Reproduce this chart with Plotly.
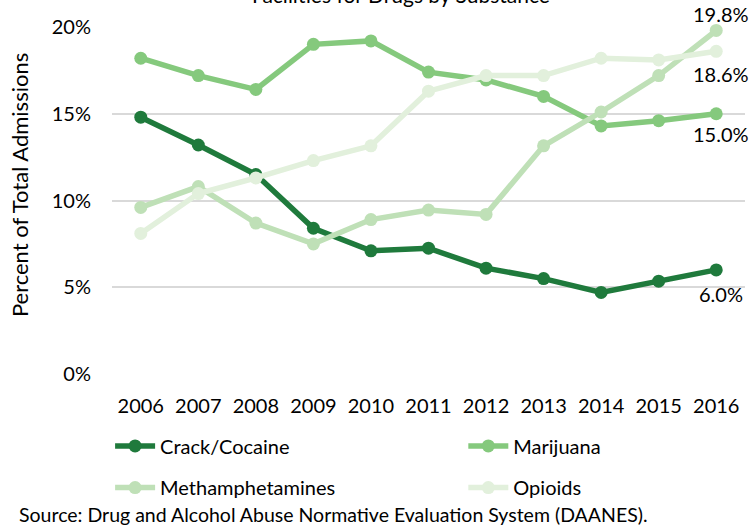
import plotly.graph_objects as go

years = [2006, 2007, 2008, 2009, 2010, 2011, 2012, 2013, 2014, 2015, 2016]
crack = [14.8, 13.2, 11.5, 8.4, 7.1, 7.25, 6.1, 5.5, 4.7, 5.35, 6.0]
marijuana = [18.2, 17.2, 16.4, 19.0, 19.2, 17.4, 16.95, 16.0, 14.3, 14.6, 15.0]
meth = [9.6, 10.8, 8.7, 7.5, 8.9, 9.45, 9.2, 13.15, 15.1, 17.2, 19.8]
opioids = [8.1, 10.4, 11.3, 12.3, 13.15, 16.3, 17.2, 17.2, 18.2, 18.1, 18.6]

names = ["Crack/Cocaine", "Marijuana", "Methamphetamines", "Opioids"]
colors = ["#1f7a3c", "#85c97d", "#bfe0b7", "#e2f0dc"]
label_shift = [-24, -20, 16, -23]
legends = ["legend", "legend2", "legend3", "legend4"]
legend_xy = [(-0.003, -0.151), (0.555, -0.151), (-0.003, -0.271), (0.555, -0.271)]
series = [crack, marijuana, meth, opioids]

FONT = "Lato, 'Open Sans', sans-serif"

fig = go.Figure()
for name, vals, col, lg in zip(names, series, colors, legends):
    fig.add_trace(go.Scatter(
        x=years, y=vals, name=name, mode="lines+markers",
        line=dict(color=col, width=5.5),
        marker=dict(color=col, size=13),
        cliponaxis=False, legend=lg,
    ))

for vals, shift in zip(series, label_shift):
    fig.add_annotation(x=years[-1], y=vals[-1], xref="x", yref="y",
                       text=f"{vals[-1]:.1f}%",
                       showarrow=False, xshift=5, yshift=shift,
                       font=dict(family=FONT, size=20, color="#000000"))

legend_layout = {}
for lg, (lx, ly) in zip(legends, legend_xy):
    legend_layout[lg] = dict(orientation="h", x=lx, y=ly, xanchor="left", yanchor="top",
                             font=dict(family=FONT, size=20), itemwidth=40,
                             bgcolor="rgba(0,0,0,0)")

fig.update_layout(
    width=752, height=527,
    margin=dict(l=112, r=7, t=27, b=153),
    paper_bgcolor="white", plot_bgcolor="white",
    font=dict(family=FONT, size=20, color="#000000"),
    showlegend=True,
    xaxis=dict(range=[years[0] - 0.5, years[-1] + 0.5], tickvals=years,
               ticktext=[str(y) for y in years],
               showgrid=False, showline=False, zeroline=False, ticks="",
               ticklabelstandoff=18, tickfont=dict(family=FONT, size=20)),
    yaxis=dict(range=[0, 20], tickvals=[0, 5, 10, 15, 20],
               ticktext=["0%", "5%", "10%", "15%", "20%"],
               showgrid=True, gridcolor="#d9d9d9", gridwidth=2,
               zeroline=False, showline=False, ticks="",
               ticklabelstandoff=20, tickfont=dict(family=FONT, size=20)),
    **legend_layout,
)

fig.add_annotation(text="Percent of Total Admissions", textangle=-90,
                   xref="paper", yref="paper", x=-0.145, y=0.545,
                   xanchor="center", yanchor="middle", showarrow=False,
                   font=dict(family=FONT, size=22))
fig.add_annotation(text="Facilities for Drugs by Substance",
                   xref="paper", yref="paper", x=0.4566, y=1.052,
                   xanchor="center", yanchor="bottom", showarrow=False,
                   font=dict(family=FONT, size=21))
fig.add_annotation(text="Source: Drug and Alcohol Abuse Normative Evaluation System (DAANES).",
                   xref="paper", yref="paper", x=-0.150, y=-0.406,
                   xanchor="left", yanchor="middle", showarrow=False,
                   font=dict(family=FONT, size=19.5))

fig.write_html("out.html")
